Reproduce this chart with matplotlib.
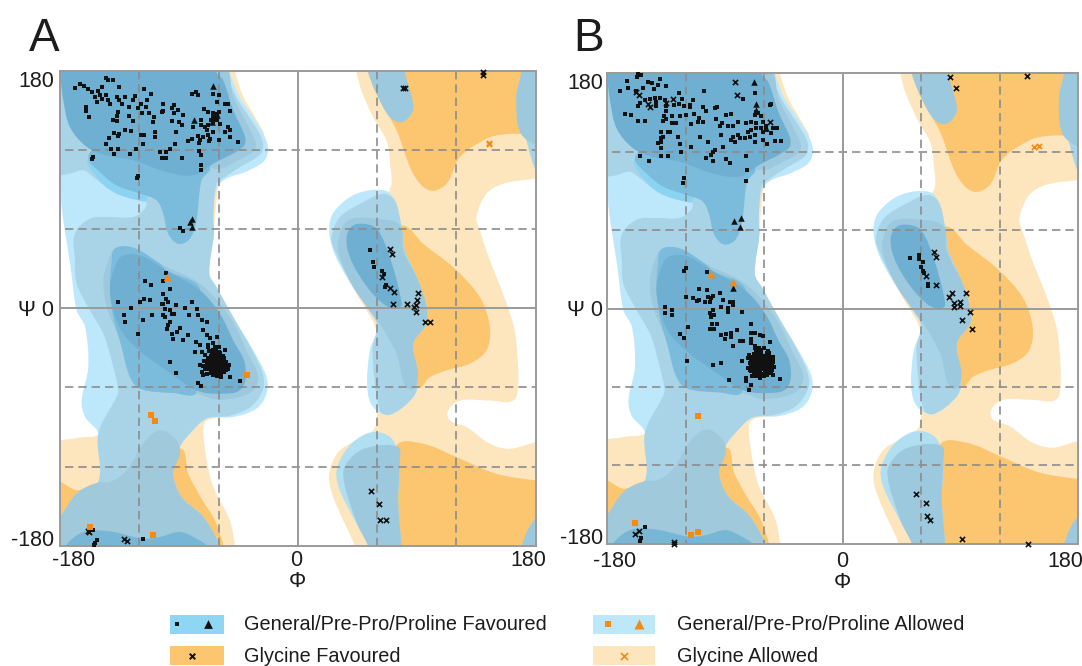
#!/usr/bin/env python3
"""Ramachandran plots of two structures (A, B) over shared phi/psi regions."""

import numpy as np
from matplotlib import pyplot as plt
from matplotlib.patches import PathPatch, Rectangle
from matplotlib.path import Path
from matplotlib.transforms import ScaledTranslation

# ── Regions (phi, psi), outlines overshoot the frame and get clipped ───────────
GLY_ALLOWED_LEFT = [(-49,186),(-47.7,179),(-41,160),(-31,142.6),(-26,130),(-45,108),(-59,94.6),(-61.5,82),(-64,56.6),(-68,26.3),(-61.5,16),(-49,-6.5),(-35,-31.8),(-26,-57),(-49,-80),(-69,-85),(-71.6,-91.3),(-69,-115),(-64,-135.5),(-51.5,-160.8),(-47.7,-180),(-47.7,-186),(-185,-186),(-185,-100),(-180,-100),(-165,-98),(-150,-95),(-137,-70),(-99,-19),(-125,57),(-185,100),(-185,186)]
GLY_FAV_LEFT_A = [(-190,-130),(-180,-131.5),(-167,-138),(-153,-134),(-145,-150),(-170,-175),(-190,-175)]
GLY_FAV_LEFT_B = [(-89.3,-106.4),(-83,-125.4),(-72.9,-144.3),(-62.8,-160.8),(-56,-181),(-56,-186),(-85,-186),(-100,-125)]
GLY_ALLOWED_RIGHT = [(44.4,183),(44.4,179),(48.2,165),(57,145),(67,127.3),(69.6,112.2),(68.4,88),(44.4,79.3),(26.8,61.6),(31.8,36.3),(44.4,11),(60,-19.3),(60,-80),(57,-92.6),(31.8,-107.8),(23.7,-125.5),(26.8,-143.2),(43.2,-180.3),(43.2,-185),(185.6,-185),(185.6,-101.5),(179.8,-101.5),(160.4,-106.5),(145.3,-102.7),(127.6,-90),(115,-85),(113.7,-77.4),(122.6,-69.9),(145.3,-69.9),(163,-69.9),(166.7,-57.2),(165.4,-26.9),(162.9,-11.7),(155.3,11),(145.3,36.3),(137.7,59.1),(135.2,69.2),(142.7,86.9),(155.3,94.5),(179.8,98.3),(185.6,98.3),(185.6,183)]
GLY_FAV_RIGHT_A = [(53.2,183),(53.2,179),(59.5,162.7),(74.7,134.9),(87.3,102),(99.9,89.4),(112.5,94.5),(122.6,114.7),(142.7,128.6),(155.3,131.9),(170.5,131.9),(185.6,126),(185.6,183)]
GLY_FAV_RIGHT_B = [(78.5,62.9),(94.8,49),(118.8,30),(137.7,8.5),(145.3,-14.2),(142.7,-32),(130,-42),(112.5,-47),(99.9,-52.2),(91,-59.7),(82.2,-39.5),(77.2,11),(69.6,49)]
GLY_FAV_RIGHT_C = [(74.7,-104),(94.8,-102.7),(120,-112.8),(150.3,-125.5),(179.8,-130.5),(185.6,-131),(185.6,-186),(69.6,-186),(69.6,-140.6)]

GEN_ALLOWED_LEFT = [(-51.5,186),(-51.5,179),(-43.9,160),(-33.8,145),(-25,130),(-22.5,119.8),(-26.3,111),(-40,103.4),(-54,98.4),(-61.5,90.8),(-64,69.3),(-63.5,56.6),(-67,26.3),(-61.5,16),(-49,-6.5),(-33.8,-31.8),(-23.7,-52),(-23.7,-64.7),(-31.3,-76),(-49,-82.4),(-69,-83.6),(-81.7,-95),(-89.3,-105.2),(-94.3,-125.4),(-88,-143),(-71.6,-158.2),(-59,-179.7),(-59,-186),(-185,-186),(-185,-160.8),(-180,-158.2),(-167.4,-140.5),(-151,-131.7),(-151,-95),(-161,-82.4),(-163.6,-69.8),(-158.6,-44.5),(-161,-14),(-167.4,-1.5),(-172,31.4),(-178.8,77),(-180,102),(-185,110),(-185,186)]
GEN_OVER_GLY_LEFT = [(-185,186),(-54,186),(-54,179),(-46.5,160),(-35.5,143),(-27,128),(-27,119),(-32,114),(-44,107),(-56,99),(-61.5,94.6),(-64,69.3),(-63.5,56.6),(-67,26.3),(-61.5,16),(-49,-6.5),(-35,-31),(-26.5,-50),(-26.5,-62),(-36,-75),(-52,-81.5),(-69,-83.6),(-81.7,-95),(-89.3,-105.2),(-94.3,-125.4),(-88,-143),(-71.6,-158.2),(-59,-179.7),(-59,-186),(-185,-186),(-185,-160.8),(-180,-158.2),(-167.4,-140.5),(-151,-131.7),(-151,-95),(-137.2,-67.2),(-135.9,-62),(-141,-39.4),(-147.2,-19.2),(-157.3,-1.5),(-167.4,18.7),(-168.7,36.4),(-168.7,56.6),(-157.3,68),(-142.2,69.3),(-124.5,69.3),(-115.7,75.6),(-115,80.7),(-124.5,83.2),(-139.7,88.2),(-154.8,99.6),(-162.4,104.7),(-172.5,102.1),(-180,100.9),(-185,100.9)]
GEN_OVER_GLYFAV_LEFT = [(-185,-162),(-180,-158),(-167,-140),(-151,-132),(-142.2,-131.7),(-129.6,-122.9),(-117,-102.6),(-104.4,-92.5),(-91.8,-100),(-89.3,-110.2),(-94.3,-125.4),(-88,-143),(-71.6,-158.2),(-59,-179.7),(-59,-186),(-185,-186)]
FAV_BRIGHT = [(-158,115),(-150,97),(-137,87),(-121,82),(-115,82),(-115,92),(-140,105)]
FAV_NECK = [(-158.6,114.8),(-149.8,103.4),(-137.2,93.3),(-119.5,87),(-106.9,81.9),(-101.9,71.8),(-98.1,56.6),(-90.5,49),(-81.7,52.8),(-76.7,66.8),(-72.9,97.1),(-66.6,107.2),(-84,120),(-149.8,122.4)]
FAV_RING_TOP = [(-56,186),(-52,179),(-49,161),(-37,137),(-32,122),(-44,113),(-64,106),(-70,120),(-60,170)]
FAV_CORE_TOP = [(-180,186),(-180,179),(-177.5,157.8),(-172.5,137.5),(-159.8,122.4),(-144.7,116),(-124.5,112.3),(-99.4,103.4),(-79,100.9),(-64,109.7),(-41.4,122.4),(-40,130),(-48.9,150.2),(-56.5,173),(-61.5,179),(-61.5,186)]
FAV_RING_LOW = [(-138.4,45.3),(-124.6,46),(-104.4,33.9),(-74.1,18.7),(-51.5,-6.6),(-37.6,-34.4),(-30,-52),(-33.8,-62.2),(-43.9,-67.2),(-61.5,-69.3),(-76.7,-64.7),(-91.8,-64.2),(-119.5,-60.9),(-128.3,-49.5),(-134.6,-24.3),(-144.7,1),(-147.2,21.2),(-143.5,36.4)]
FAV_MID_LOW = [(-138.4,45.3),(-124.6,46),(-104.4,33.9),(-99.4,28.8),(-74,14),(-76.7,-63.4),(-94.3,-64.2),(-119.5,-60.9),(-127,-52),(-133.4,-29.3),(-139.7,-6.6),(-142.2,16.2),(-141,34)]
FAV_CORE_LOW = [(-142.2,16.2),(-138.4,31.4),(-133.4,39.4),(-119.5,40.2),(-99.4,28.8),(-74.1,13.7),(-59,-4),(-49,-24.3),(-40.1,-41.9),(-42.6,-60.9),(-59,-64.7),(-76.7,-62.2),(-99.4,-47),(-117,-34.4),(-132.1,-19.2),(-139.7,-1.5)]
FAV_BOTTOM = [(-176.2,-181),(-167.4,-172.2),(-157.3,-168.4),(-139.7,-169.6),(-117,-174.7),(-104.4,-173.4),(-89.3,-169.6),(-76.7,-174.7),(-67.8,-181),(-68,-186),(-176,-186)]

GEN_ALLOWED_RIGHT_A = [(23.7,61.6),(28,74.2),(44.4,86.9),(65.8,89.4),(73.4,81.8),(78.5,61.6),(81,43.9),(91,21.2),(97.4,1),(97.4,-11.7),(87.3,-26.9),(91,-54.7),(87.3,-67.3),(69.6,-80.7),(57,-74.9),(52.5,-59.7),(54.5,-31.9),(60,-13),(52,1),(36.9,23.7),(26.8,43.9)]
GEN_MID_RIGHT_A = [(25.5,54),(31.8,69.2),(49.5,80.6),(64.6,86.9),(73.4,81.8),(78.5,61.6),(81,43.9),(91,21.2),(97.4,1),(97.4,-11.7),(87.3,-26.9),(91,-54.7),(87.3,-67.3),(69.6,-80.7),(62,-77.4),(56.5,-32),(60,-13),(52,1),(38,23.7),(28,43.9)]
FAV_RING_RIGHT = [(30.6,51.5),(38.1,66.7),(59.5,67.9),(77.2,62.9),(79.7,43.9),(91,21.2),(97.4,1),(97.4,-11.7),(87.3,-26.9),(91,-49.6),(87.3,-61),(81,-58.5),(74.7,-34.5),(62,-11.7),(54.5,-1.6),(41.9,16.1),(31.8,38.8)]
FAV_CORE_RIGHT = [(36.9,54),(41.9,62.9),(53.2,63.6),(60.8,59.1),(69.6,38.8),(78.5,3.5),(74.7,-0.3),(64.6,3.5),(50.7,18.6),(39.4,38.8)]
GEN_ALLOWED_RIGHT_B = [(29.3,-123),(38.1,-105.2),(52,-95),(63.3,-94.4),(72.2,-100.2),(77.2,-115.4),(75.9,-145.7),(78.5,-181),(78.5,-186),(53.2,-186),(53.2,-180.3),(43.2,-160.9),(31.8,-138)]
GEN_MID_RIGHT_B = [(34.3,-125.5),(41.9,-111.6),(54.5,-105.2),(75.9,-105.2),(77.2,-115.4),(75.9,-145.7),(78.5,-181),(78.5,-186),(53.2,-186),(53.2,-180.3),(44.4,-162.1)]
GEN_TOP_LOBE = [(53.2,183),(53.2,179),(59.5,162.7),(69.6,145),(78.5,141.2),(86,147.6),(87.3,155.1),(81,179),(81,183)]
GEN_CORNER_TR = [(169.2,183),(169.2,179),(165.4,160.2),(170.5,137.4),(179.8,104.6),(185.6,99.5),(185.6,183)]
GEN_CORNER_TR_DARK = [(169.2,183),(169.2,179),(165.4,160.2),(169.2,131.9),(185.6,126),(185.6,183)]
GEN_CORNER_BR = [(179.8,-159.6),(171.7,-173.5),(170.5,-186),(185.6,-186),(185.6,-159.6)]

# ── Panel A residues ───────────────────────────────────────────────────────────
A_SQUARES = [(-169,167),(-165,170),(-162,169),(-159,166),(-156,164),(-151,165),(-148,168),(-145,175),(-143.5,173),(-140,173),(-135,168),(-116.5,166),(-111,162.5),(-153.5,160),(-150,161.5),(-148.5,159),(-145,161.5),(-143.5,158),(-137,160),(-135,158),(-131,160),(-123,161),(-125,158),(-114.5,158),(-152,156.5),(-142,155),(-133,155),(-128,153),(-121,152),(-119,155),(-115,153),(-102,155),(-94,154),(-160,153),(-160,150),(-158,145),(-136,149),(-137,146),(-140,143),(-137,142),(-128,146),(-125,142),(-118,148.5),(-113,148),(-109,145),(-109.5,141),(-102,150),(-103,149),(-95,152),(-90.5,150.5),(-94,148),(-87,146.5),(-95,142),(-90,141),(-88,139),(-92,134),(-131,135),(-126.5,134.5),(-135,132.5),(-139,133),(-143,129.5),(-136,131),(-145,125),(-141.5,120.5),(-136,120.5),(-139,117),(-127,117),(-122.5,120.5),(-117,124.5),(-119,131.5),(-116.5,131.5),(-108,134),(-108,130),(-93,124.5),(-97,120.5),(-100,118.5),(-104.5,118.5),(-103,114),(-100,114),(-88,114),(-75,119.5),(-73,116),(-73,108.5),(-73,105),(-122,99),(-121,100),(-155,115),(-156,113),
    (-80,162.3),(-77,164),(-75.4,161.5),(-64,162.5),(-60,161.5),(-61,156.5),(-55,154.7),(-53,154.7),(-51,150),(-71,151.5),(-68,149),(-64,148),(-61,147.6),(-60,149),(-64,145),(-66,142.6),(-63,144),(-61,142.6),(-64,141),(-68,139),(-70.4,137.6),(-69,135),(-73,142.6),(-79,137.6),(-73,139),(-59,140),(-53,137.5),(-51.5,135),(-55,133.7),(-51.5,130),(-45,126),(-64,133.7),(-68,131.2),(-71.6,130),(-75.4,130.5),(-66.6,128.7),(-74,127.4),(-80.4,128.7),(-83,127),(-75,125.4),(-67,127),(-59.5,127.4),(-89.3,61),(-86.7,59),
    (-100,27),(-102,21),(-115.7,20.5),(-111,17.4),(-97,14.4),(-102,11),(-116.5,7.3),(-119.5,4.8),(-112,6),(-100,6.8),(-98,4.8),(-102,3.5),(-103,3),(-92,2.3),(-80.4,4.8),(-136.4,4.8),(-126.6,0.5),(-85.5,0.5),(-76.6,-0.2),(-96.8,-1.5),(-100.6,-0.3),(-131.6,-4.8),(-110,-4.8),(-102,-5.3),(-95.6,-4),(-82,-4.8),(-75.4,-5.3),
    (-130.9,-10.6),(-117,-8.8),(-100.6,-6.3),(-94,-4.5),(-72.9,-8.8),(-69,-10),(-96.8,-10),(-98,-12.6),(-99.3,-16),(-89,-15),(-91.8,-17.7),(-95.6,-19.5),(-120.8,-19.5),(-86.7,-24),(-94.8,-23.5),(-82.9,-20),(-71.6,-16.4),(-69,-20),(-66.6,-22.8),(-76.7,-25.3),(-74,-27.8),(-61.5,-21.5),(-77.9,-32.9),(-72.9,-32.9),(-67.8,-29),(-64,-31.6),(-55,-31.6),(-96.8,-40.4),(-92.3,-48.8),(-74,-43),(-72.9,-48),(-71.6,-50.6),(-64,-50.6),(-57.8,-52.3),(-51.5,-51.8),(-54,-46.8),(-43.9,-55),(-75.4,-56.4),(-73.6,-58.6),
    (-61,-42),(-62,-40),(-60,-44),(-63,-43),(-59,-41),(-64,-39),(-58,-45),(-65,-45),(-60,-38),(-62,-46),(-57,-42),(-66,-41),(-63,-36),(-59,-47),(-61,-35),(-67,-44),(-56,-39),(-64,-48),(-55,-44),(-68,-38),(-60,-33),(-65,-34),(-57,-36),(-62,-31),(-69,-42),(-54,-41),(-66,-49),(-58,-50),(-53,-46),(-70,-46),(-63,-29),(-67,-32),(-61,-51),(-56,-48),(-71,-40),(-52,-43),(-60,-29),(-64,-26),(-68,-28),(-72,-44),(-69,-50),(-63,-41),(-60,-40),(-58,-43),(-65,-43),(-62,-44),(-61,-37),(-64,-46),(-59,-35),(-56,-45),(-66,-37),(-60,-48),(-54,-47),(-63,-50),(-70,-35),
    (-66,-36),(-63,-37.5),(-60,-36.5),(-57,-37.5),(-68,-39),(-65,-38.5),(-62,-39),(-59,-38.5),(-56,-37.5),(-69,-41),(-66,-42),(-64,-41),(-61,-40.5),(-58,-41),(-55,-42),(-69,-44),(-67,-43),(-64,-44),(-61,-43.5),(-58,-44),(-55,-45.5),(-68,-46),(-65,-47),(-62,-46),(-59,-45.5),(-56,-46.5),(-66,-48),(-63,-48.5),(-60,-47.5),(-57,-48.5),(-63,-34),(-59,-34),
    (54.8,43.9),(57,35),(57.8,31),(63.8,28.2),(65.3,26),(66.6,17.4),(65.8,16),
    (-154.8,-168),(-152.3,-175.7),(-153.6,-178),(-154,-179.5),(-117.5,-175)]
A_TRIANGLES = [(-64,169),(-78.6,143),(-61,146.4),(-65.3,141.3),(-80.4,68),(-81.7,65.5),(-80.4,61.7)]
A_CROSSES = [(81,167),(79.7,167),(140.2,179),(140.2,177),(70,44.7),(71,40.9),(64,23.7),(70,15.6),(72.4,12.3),(90.8,11.8),(90.3,6.5),(72,3.2),(82.7,3.2),(89.3,2.2),(88,0.7),(89.3,-2.4),(96.6,-10.4),(99.9,-10),(55.5,-138.6),(61.6,-148.5),(61.8,-160.8),(66.9,-160.6),(-158.6,-168.6),(-158,-169.5),(-131.6,-175),(-129.6,-176.2)]
A_ALLOWED_SQUARES = [(-38.8,-50.8),(-111.2,-80.9),(-108.4,-85.2),(-157.3,-166),(-109.4,-171.9)]
A_ALLOWED_TRIANGLES = [(-99.3,23.8)]
A_ALLOWED_CROSSES = [(144.5,125.6),(144.5,124.4)]

# ── Panel B residues ───────────────────────────────────────────────────────────
B_SQUARES = [(-156,179.5),(-153.7,178.5),(-156.7,177),(-164.4,174.2),(-148.6,173.7),(-139.7,175.7),(-145.3,172.4),(-141,171),(-163.9,169.1),(-152.4,168.6),(-134.6,169.9),(-170.2,166.8),(-158,166.8),(-144,167.8),(-105.8,166.8),(-124.9,165.3),
    (-76,160.2),(-66.5,165.3),(-55.6,155.8),(-54.5,156.5),(-155,157),(-156.2,155),(-151.1,159.7),(-147.3,160.2),(-143.5,161),(-139.7,161),(-135.9,159.7),(-142.2,158.4),(-142.2,155),(-134.6,155),(-129,155.8),(-125,156.6),(-122.4,160.4),(-121.4,155),(-116.7,155.8),(-114.2,159.2),(-116.7,154),(-106.5,154),(-104.5,151.5),(-97.6,153.3),(-95.8,154),(-134.6,151.5),(-166.4,149),(-161.8,148),(-156,143.6),(-150.6,143.6),(-136.6,147),(-135,145),(-130.7,147),(-124.4,147),(-119.8,148),(-113.4,148.7),(-109.8,146),(-110.4,142.6),(-107,142.6),(-96.8,144.9),(-88.7,148),(-84.9,148.7),(-91.8,142.3),(-93.8,139.3),(-87.4,139.7),(-79.8,142.6),(-74,142.3),(-83.6,139.3),(-137,143.8),(-130.7,141.8),(-127,141.8),(-115.5,141),(-133.3,135.4),(-131.5,135),(-138.4,135.4),(-137,131.6),(-139,130.3),(-141.4,127),(-138.4,127.8),(-138.4,122.7),(-125.7,131),(-124,125.8),(-123.6,119.4),(-109,131),(-115.5,123.4),(-102.7,127.8),(-93,132.4),(-91.2,123.4),(-154.4,117),(-147.8,113.2),(-138.4,117),(-133.3,117),(-98.9,120),(-97.6,121.4),(-100.2,117.6),(-104,115),(-98.9,113),(-88.7,114.3),(-86.1,111.7),(-74,117),(-73,106),(-74,97.7),(-121,99.7),(-121.8,96.4),
    (-65.8,150.7),(-67,148),(-64.5,149.5),(-62,147),(-60.7,143),(-69.6,143),(-65.8,141.8),(-58.2,139.3),(-62,138),(-65.8,138),(-69.6,136.7),(-72,135.4),(-58.2,136.7),(-53,138),(-50,138),(-54.3,134.2),(-60.7,135.4),(-67,132.9),(-70.8,131.6),(-74.7,130.3),(-79.8,132.9),(-83.6,131.6),(-84.9,129),(-82.3,127.8),(-78.5,130.3),(-67,127.8),(-60.7,129),(-57.7,126),(-51.3,128.5),(-46.7,128.5),
    (-119.8,30.8),(-121.3,28.8),(-103.2,27.8),(-109.6,15.3),(-103.2,13.8),(-93.8,11.7),(-119.3,8.6),(-114.2,7.9),(-111.1,6.1),(-109.6,6.6),(-102.7,8.6),(-100.2,7.9),(-98.9,9.2),(-101.5,5.3),(-105.3,4.6),(-91.2,6.6),(-86.1,5.3),(-83.6,5.3),(-83.6,2.8),(-92.5,1.5),(-87.4,0.2),(-135.3,1.5),(-130.2,-1),(-135.3,-3.1),(-130.2,-4.9),(-77,-2.3),(-98.9,-1),(-101.5,-3.1),(-98.4,-4.9),(-87.4,-2.8),
    (-99.4,-4.8),(-100.2,-6.6),(-99.9,-11.7),(-96.3,-12),(-101.5,-15.8),(-98.4,-15.8),(-118,-14.3),(-123.9,-19.4),(-121,-22.7),(-92.5,-20.1),(-88.7,-19.3),(-84.9,-18.8),(-81,-16.3),(-69.6,-11.7),(-63.2,-20.1),(-69.6,-18.8),(-67,-18.8),(-60.7,-21.4),(-55.6,-26),(-90,-23.4),(-84.9,-21.9),(-78.5,-24.5),(-76,-25.2),(-83.6,-29),(-69.6,-23.4),(-69.6,-26.5),(-67,-29),(-63.2,-31.6),(-56.9,-32.9),(-71.8,-35.4),(-119.2,-40.5),(-98.9,-43.6),(-92.5,-41.8),(-76.5,-40.5),(-72,-45.6),(-53,-41.3),(-69.6,-48.2),(-68.3,-52),(-73.9,-53.3),(-73.4,-55.8),(-86.7,-54.6),(-47.9,-53.8),(-53,-50.7),(-69.6,-58.4),(-71.4,-62.2),
    (-62,-43),(-60,-41),(-64,-45),(-61,-46),(-63,-40),(-59,-44),(-65,-42),(-62,-38),(-66,-47),(-58,-47),(-57,-42),(-67,-40),(-60,-36),(-64,-36),(-61,-50),(-56,-39),(-68,-44),(-65,-50),(-56,-46),(-69,-37),(-62,-33),(-58,-34),(-66,-33),(-54,-43),(-71,-42),(-58,-51),(-55,-49),(-68,-49),(-71,-47),(-64,-30),(-60,-30),(-53,-37),(-63,-53),(-72,-38),(-67,-30),(-62,-42),(-60,-39),(-63,-44),(-65,-39),(-59,-48),(-61,-44),(-66,-44),(-64,-42),(-57,-45),(-63,-47),(-60,-52),(-69,-52),(-65,-36),(-62,-36),(-56,-36),
    (-68,-35),(-65,-34),(-62,-35),(-59,-36),(-56,-34),(-70,-39),(-67,-38),(-64,-38),(-61,-38),(-58,-39),(-55,-38),(-70,-44),(-68,-42),(-65,-41),(-62,-40.5),(-59,-41),(-56,-41.5),(-53,-40),(-70,-45),(-67,-46),(-64,-43),(-61,-42),(-58,-44),(-55,-44),(-52,-45),(-69,-48),(-66,-49),(-63,-49),(-60,-46),(-57,-48),(-54,-47),(-66,-52),(-62,-50),(-58,-49),
    (51.5,38.7),(58.3,41.3),(58.8,37.7),(61.4,35.6),(59.8,31.7),(61.9,28.6),(62.1,27.3),(65.2,19),(65.2,17),
    (-150.6,-167.6),(-153.7,-175.7),(-154.4,-178.3)]
B_TRIANGLES = [(-67.5,173),(-65.8,156.4),(-65.8,152),(-58.2,138),(-83.3,67.3),(-77.2,69.6),(-78.5,62.2),(-83.6,15.5)]
B_CROSSES = [(-81.8,173),(-81,163.2),(-155.5,163.5),(-158,166),(-147.3,154),(-129.5,160.2),(-148.6,156.6),(-135,157),(-55.6,143),(82.5,176.8),(86.7,168.8),(141,177.6),(69.6,43.4),(71.2,39.7),(64,24.5),(71.2,18),(83.8,12),(81.3,8.7),(94.4,11.5),(85.4,4),(85.4,1),(90,5),(90,2),(97.3,-2.7),(91,-8.9),(99.3,-15.4),(56.2,-141.6),(64.2,-149.1),(64.7,-158.7),(66.5,-161.5),(91,-176.5),(142,-179.9),(-158.8,-172.4),(-155.5,-169.9),(-128.9,-178.8),(-128.9,-180)]
B_ALLOWED_SQUARES = [(-110.4,-82.4),(-158.8,-164),(-116,-173.4),(-110.1,-171.1)]
B_ALLOWED_TRIANGLES = [(-100.2,26.5),(-83.4,19.9)]
B_ALLOWED_CROSSES = [(146.6,123.8),(150,124.3)]

# ── Labels ─────────────────────────────────────────────────────────────────────
X_TICKS = [-180, 0, 180]
Y_TICKS = [-180, 0, 180]
X_LABELS = ["-180", "0", "180"]
Y_LABELS = ["-180", "Ψ 0", "180"]
DASHES = [-120, -60, 60, 120]
LEGEND = ["General/Pre-Pro/Proline Favoured", "Glycine Favoured",
          "General/Pre-Pro/Proline Allowed", "Glycine Allowed"]

# ── Styles ─────────────────────────────────────────────────────────────────────
COL_GA = "#fde5bd"
COL_GF = "#fbc66f"
COL_CYAN = "#bde7fa"
COL_BG = "#a9d4e7"
COL_BGF = "#a0c9dc"
COL_BRIGHT = "#8ad3f2"
COL_NECK = "#7bbbdc"
COL_RING = "#9dc9de"
COL_CORE = "#6eafd2"
COL_GRID = "#8c8c8c"
COL_FRAME = "#9a9a9a"
COL_ORANGE = "#f58a12"
COL_TEXT = "#1c1c1c"
W, H = 1082, 666

LAYERS = [
    (GLY_ALLOWED_LEFT, COL_GA), (GLY_ALLOWED_RIGHT, COL_GA),
    (GLY_FAV_LEFT_A, COL_GF), (GLY_FAV_LEFT_B, COL_GF),
    (GLY_FAV_RIGHT_A, COL_GF), (GLY_FAV_RIGHT_B, COL_GF), (GLY_FAV_RIGHT_C, COL_GF),
    (GEN_ALLOWED_LEFT, COL_CYAN), (GEN_OVER_GLY_LEFT, COL_BG), (GEN_OVER_GLYFAV_LEFT, COL_BGF),
    (FAV_BRIGHT, COL_BRIGHT), (FAV_NECK, COL_NECK), (FAV_RING_TOP, COL_RING), (FAV_CORE_TOP, COL_CORE),
    (FAV_RING_LOW, COL_RING), (FAV_MID_LOW, COL_NECK), (FAV_CORE_LOW, COL_CORE), (FAV_BOTTOM, "#78b6d6"),
    (GEN_ALLOWED_RIGHT_A, COL_CYAN), (GEN_MID_RIGHT_A, COL_BG), (FAV_RING_RIGHT, COL_RING), (FAV_CORE_RIGHT, COL_CORE),
    (GEN_ALLOWED_RIGHT_B, "#b0dff2"), (GEN_MID_RIGHT_B, COL_RING),
    (GEN_TOP_LOBE, COL_RING), (GEN_CORNER_TR, COL_BG), (GEN_CORNER_TR_DARK, COL_RING), (GEN_CORNER_BR, COL_RING),
]

plt.rcParams["font.family"] = ["Liberation Sans", "DejaVu Sans"]
fig = plt.figure(figsize=(W / 100, H / 100), dpi=100)


def smooth(outline):
    # closed curve through the outline, handles limited by segment length
    pts = np.array(outline, dtype=float)
    n = len(pts)
    verts, codes = [pts[0]], [Path.MOVETO]
    for i in range(n):
        p0, p1 = pts[i], pts[(i + 1) % n]
        t0 = pts[(i + 1) % n] - pts[i - 1]
        t1 = pts[(i + 2) % n] - pts[i]
        d = np.linalg.norm(p1 - p0)
        verts += [p0 + t0 / np.linalg.norm(t0) * d / 3, p1 - t1 / np.linalg.norm(t1) * d / 3, p1]
        codes += [Path.CURVE4] * 3
    return Path(verts, codes)


def scatter(ax, pts, marker, color, size, lw=0.0):
    xy = np.array(pts)
    ax.scatter(xy[:, 0], xy[:, 1], marker=marker, s=size, c=color, linewidths=lw, zorder=6, clip_on=False)


def panel(box, squares, triangles, crosses, a_squares, a_triangles, a_crosses, x_dx, x_pad, y_pad, lab_pad):
    left, right, top, bottom = box
    ax = fig.add_axes([left / W, 1 - bottom / H, (right - left) / W, (bottom - top) / H])
    ax.set_xlim(-180, 180)
    ax.set_ylim(-180, 180)
    for outline, color in LAYERS:
        ax.add_patch(PathPatch(smooth(outline), facecolor=color, edgecolor="none", zorder=1))
    for v in DASHES:
        ax.plot([-176, 180], [v, v], color=COL_GRID, lw=1.2, dashes=(5, 3), zorder=3)
        ax.plot([v, v], [180, -180], color=COL_GRID, lw=1.2, dashes=(5, 3), zorder=3)
    ax.axhline(0, color=COL_FRAME, lw=1.4, zorder=4)
    ax.axvline(0, color=COL_FRAME, lw=1.4, zorder=4)
    for spine in ax.spines.values():
        spine.set_color(COL_FRAME)
        spine.set_linewidth(1.4)
        spine.set_zorder(5)

    scatter(ax, crosses, "x", "#111111", 14, 1.2)
    scatter(ax, squares, "s", "#111111", 7.5)
    scatter(ax, triangles, "^", "#111111", 22)
    scatter(ax, a_crosses, "x", COL_ORANGE, 14, 1.2)
    scatter(ax, a_squares, "s", COL_ORANGE, 13)
    scatter(ax, a_triangles, "^", COL_ORANGE, 30)

    ax.set_xticks(X_TICKS, X_LABELS, fontsize=15.5, color=COL_TEXT)
    ax.set_yticks(Y_TICKS, Y_LABELS, fontsize=15.5, color=COL_TEXT)
    ax.tick_params(axis="x", length=0, pad=x_pad)
    ax.tick_params(axis="y", length=0, pad=y_pad)
    ax.set_xlabel("Φ", fontsize=15.5, color=COL_TEXT, labelpad=lab_pad)
    # end labels sit inside the corners
    for lab, dx in zip(ax.get_xticklabels(), x_dx):
        lab.set_transform(lab.get_transform() + ScaledTranslation(dx / 100, 0, fig.dpi_scale_trans))
    for lab, dy in zip(ax.get_yticklabels(), (8, 0, -8)):
        lab.set_transform(lab.get_transform() + ScaledTranslation(0, dy / 100, fig.dpi_scale_trans))
    return ax


panel((60, 535.7, 71, 545.7), A_SQUARES, A_TRIANGLES, A_CROSSES,
      A_ALLOWED_SQUARES, A_ALLOWED_TRIANGLES, A_ALLOWED_CROSSES, (14, -2, -7), 3, 4, 0)
panel((607, 1078, 73.3, 543.7), B_SQUARES, B_TRIANGLES, B_CROSSES,
      B_ALLOWED_SQUARES, B_ALLOWED_TRIANGLES, B_ALLOWED_CROSSES, (8, 0, -13), 5, 3, 0)

# ── Panel letters and legend, drawn in pixel coordinates ───────────────────────
ov = fig.add_axes([0, 0, 1, 1], zorder=10)
ov.set_xlim(0, W)
ov.set_ylim(H, 0)
ov.axis("off")
ov.text(29, 51, "A", fontsize=33, color=COL_TEXT, ha="left", va="baseline")
ov.text(573, 51, "B", fontsize=33, color=COL_TEXT, ha="left", va="baseline")

ov.add_patch(Rectangle((170, 615), 54, 18.5, fc="#8fd6f4", ec="none"))
ov.add_patch(Rectangle((170, 646), 54, 18.5, fc=COL_GF, ec="none"))
ov.add_patch(Rectangle((592.5, 615), 62.5, 18.5, fc=COL_CYAN, ec="none"))
ov.add_patch(Rectangle((592.5, 646), 62.5, 18.5, fc=COL_GA, ec="none"))
ov.scatter([177], [624], marker="s", s=10, c="#111111", linewidths=0)
ov.scatter([208.3], [624], marker="^", s=40, c="#111111", linewidths=0)
ov.scatter([192.3], [655.5], marker="x", s=16, c="#111111", linewidths=1.4)
ov.scatter([608], [624], marker="s", s=24, c=COL_ORANGE, linewidths=0)
ov.scatter([639.3], [624], marker="^", s=52, c=COL_ORANGE, linewidths=0)
ov.scatter([624], [655.5], marker="x", s=26, c=COL_ORANGE, linewidths=1.2)
for (x, y), label in zip([(244, 625), (244, 656), (677, 625), (677, 656)], LEGEND):
    ov.text(x, y, label, fontsize=14.3, color=COL_TEXT, ha="left", va="center")

fig.savefig("out.png", dpi=100)
